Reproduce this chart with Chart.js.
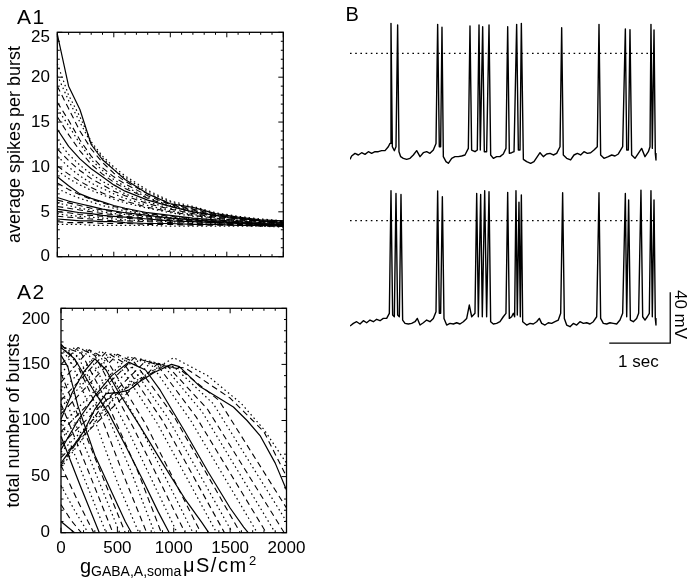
<!DOCTYPE html>
<html><head><meta charset="utf-8">
<script src="https://cdn.jsdelivr.net/npm/chart.js@4.4.0/dist/chart.umd.min.js"></script>
<style>
html,body{margin:0;padding:0;background:#fff;}
body{width:696px;height:584px;position:relative;overflow:hidden;font-family:'Liberation Sans',Arial,sans-serif;}
.wrap{position:absolute;}
.lbl{position:absolute;font-family:'Liberation Sans',Arial,sans-serif;line-height:1;white-space:nowrap;color:#000;}
</style></head><body>
<div class="wrap" style="left:0;top:0;width:300px;height:265px"><canvas id="a1" width="300" height="265"></canvas></div>
<div class="wrap" style="left:0;top:280px;width:310px;height:290px"><canvas id="a2" width="310" height="290"></canvas></div>
<div class="wrap" style="left:350px;top:10px;width:310px;height:160px"><canvas id="b1" width="310" height="160"></canvas></div>
<div class="wrap" style="left:350px;top:180px;width:330px;height:180px"><canvas id="b2" width="330" height="180"></canvas></div>

<div class="lbl" style="left:17px;top:5.5px;font-size:21px;letter-spacing:1.5px">A1</div>
<div class="lbl" style="left:17px;top:280.5px;font-size:21px;letter-spacing:1.5px">A2</div>
<div class="lbl" style="left:345.5px;top:4px;font-size:20px">B</div>

<span class="lbl" style="left:80px;top:556px;font-size:20px">g</span>
<span class="lbl" style="left:91px;top:564px;font-size:14px">GABA,A,soma</span>
<span class="lbl" style="left:183px;top:555px;font-size:20px;letter-spacing:1.5px">μS/cm</span>
<span class="lbl" style="left:249px;top:554px;font-size:13px">2</span>

<div class="lbl" style="left:618px;top:352.8px;font-size:17px">1 sec</div>
<div class="lbl" style="left:650px;top:305.5px;width:60px;height:17px;font-size:17px;text-align:center;transform:rotate(90deg);transform-origin:30px 8.5px">40 mV</div>

<script>
// ---------------- A1: average spikes per burst vs gGABA,A,soma ----------------
const A1_G = [0,100,200,300,400,500,600,800,1000,1200,1400,1600,1800,2000];
const A1_C01 = [24.8,19.0,16.4,12.5,10.8,9.7,8.6,7.0,5.9,5.5,4.8,4.4,4.1,4.0];
const A1_C02 = [21.5,18.0,15.6,12.8,11.2,10.0,9.0,7.4,6.2,5.6,4.9,4.5,4.2,4.0];
const A1_C03 = [20.2,17.4,15.0,12.6,11.0,9.7,8.8,7.2,6.1,5.4,4.8,4.4,4.1,3.9];
const A1_C04 = [19.0,16.5,14.0,12.0,10.5,9.3,8.4,7.0,5.9,5.3,4.7,4.3,4.0,3.9];
const A1_C05 = [17.2,15.2,13.0,11.2,9.9,8.9,8.1,6.8,5.8,5.2,4.6,4.3,4.0,3.8];
const A1_C06 = [16.5,14.6,12.6,10.8,9.6,8.6,7.8,6.6,5.7,5.1,4.6,4.2,4.0,3.8];
const A1_C07 = [15.6,13.6,11.8,10.3,9.2,8.3,7.6,6.5,5.6,5.0,4.5,4.2,3.9,3.8];
const A1_C08 = [14.2,12.3,10.9,9.8,8.9,8.0,7.3,6.3,5.6,5.0,4.6,4.3,4.0,3.8];
const A1_C09 = [13.0,11.4,10.2,9.2,8.4,7.7,7.0,6.1,5.4,4.9,4.5,4.2,3.9,3.7];
const A1_C10 = [12.0,10.7,9.6,8.7,8.0,7.3,6.8,5.9,5.3,4.8,4.4,4.1,3.9,3.7];
const A1_C11 = [11.2,10.0,9.0,8.2,7.6,7.0,6.5,5.7,5.1,4.7,4.3,4.0,3.8,3.7];
const A1_C12 = [10.1,9.2,8.4,7.7,7.1,6.6,6.2,5.5,5.0,4.6,4.3,4.0,3.8,3.6];
const A1_C13 = [9.6,8.7,8.0,7.4,6.9,6.4,6.0,5.4,4.9,4.5,4.2,4.0,3.8,3.6];
const A1_C14 = [8.9,7.9,7.0,6.5,6.1,5.7,5.4,4.9,4.6,4.3,4.1,3.9,3.7,3.6];
const A1_C15 = [8.2,7.5,6.9,6.4,6.0,5.6,5.3,4.8,4.5,4.2,4.0,3.8,3.7,3.6];
const A1_C16 = [7.6,7.0,6.5,6.1,5.7,5.4,5.1,4.7,4.4,4.2,4.0,3.8,3.7,3.5];
const A1_C17 = [6.6,6.2,5.9,5.6,5.3,5.1,4.9,4.6,4.3,4.1,3.9,3.8,3.6,3.5];
const A1_C18 = [6.3,6.0,5.7,5.4,5.2,5.0,4.8,4.5,4.3,4.1,3.9,3.7,3.6,3.5];
const A1_C19 = [6.0,5.7,5.4,5.2,5.0,4.8,4.7,4.4,4.2,4.0,3.9,3.7,3.6,3.5];
const A1_C20 = [5.6,5.4,5.2,5.0,4.8,4.7,4.5,4.3,4.1,4.0,3.8,3.7,3.6,3.5];
const A1_C21 = [5.3,5.1,4.9,4.8,4.6,4.5,4.4,4.2,4.0,3.9,3.8,3.7,3.6,3.5];
const A1_C22 = [5.0,4.9,4.7,4.6,4.5,4.4,4.3,4.1,4.0,3.9,3.8,3.7,3.6,3.5];
const A1_C23 = [4.8,4.6,4.5,4.4,4.3,4.2,4.1,4.0,3.9,3.8,3.7,3.6,3.5,3.4];
const A1_C24 = [4.5,4.4,4.3,4.2,4.1,4.0,4.0,3.9,3.8,3.7,3.6,3.6,3.5,3.4];
const A1_C25 = [4.2,4.1,4.0,4.0,3.9,3.9,3.8,3.7,3.7,3.6,3.6,3.5,3.5,3.4];
const A1_C26 = [3.9,3.8,3.8,3.8,3.7,3.7,3.7,3.6,3.6,3.5,3.5,3.5,3.4,3.4];
const A1_C27 = [3.6,3.6,3.6,3.5,3.5,3.5,3.5,3.5,3.4,3.4,3.4,3.4,3.4,3.3];
const A1_TICKS = [0,5,10,15,20,25];

// ---------------- A2: total number of bursts vs gGABA,A,soma ([g, bursts]) ----------------
const A2_C01 = [[0,10],[120,0]];
const A2_C02 = [[0,25],[90,11],[180,0]];
const A2_C03 = [[0,42],[120,20],[240,0]];
const A2_C04 = [[0,60],[150,28],[290,0]];
const A2_C05 = [[0,86],[170,42],[340,0]];
const A2_C06 = [[0,100],[200,50],[400,0]];
const A2_C07 = [[0,115],[230,58],[460,0]];
const A2_C08 = [[0,128],[260,65],[520,0]];
const A2_C09 = [[0,142],[280,72],[570,0]];
const A2_C10 = [[0,158],[60,148],[150,113],[300,69],[450,36],[570,10],[625,0]];
const A2_C11 = [[0,165],[100,150],[300,100],[500,45],[690,0]];
const A2_C12 = [[0,168],[120,155],[350,105],[560,50],[760,0]];
const A2_C13 = [[0,167],[150,157],[380,112],[620,55],[830,0]];
const A2_C14 = [[0,166],[180,160],[400,118],[680,55],[890,0]];
const A2_C15 = [[0,165],[120,155],[300,125],[420,107],[570,78],[720,48],[860,19],[960,0]];
const A2_C16 = [[0,160],[100,165],[250,158],[600,90],[1030,0]];
const A2_C17 = [[0,150],[150,165],[300,158],[650,92],[1100,0]];
const A2_C18 = [[0,142],[200,164],[350,157],[700,95],[1170,0]];
const A2_C19 = [[0,134],[250,163],[400,155],[750,97],[1240,0]];
const A2_C20 = [[0,101],[100,125],[200,143],[300,155],[400,145],[500,127],[700,95],[900,62],[1100,30],[1250,9],[1310,0]];
const A2_C21 = [[0,126],[350,162],[500,152],[850,98],[1380,0]];
const A2_C22 = [[0,118],[400,161],[550,152],[900,100],[1450,0]];
const A2_C23 = [[0,112],[450,160],[600,152],[950,102],[1520,0]];
const A2_C24 = [[0,106],[500,159],[650,152],[1000,104],[1590,0]];
const A2_C25 = [[0,74],[150,100],[300,122],[450,140],[600,152],[750,145],[880,127],[1100,90],[1300,55],[1500,22],[1620,5],[1660,0]];
const A2_C26 = [[0,96],[600,157],[800,150],[1150,100],[1740,0]];
const A2_C27 = [[0,90],[650,156],[850,150],[1200,103],[1820,0]];
const A2_C28 = [[0,84],[700,155],[900,150],[1250,108],[1900,0]];
const A2_C29 = [[0,78],[750,153],[950,148],[1300,110],[1980,0]];
const A2_C30 = [[0,72],[800,152],[1000,148],[1350,115],[2000,10]];
const A2_C31 = [[0,67],[850,150],[1050,146],[1400,118],[2000,22]];
const A2_C32 = [[0,62],[200,90],[300,110],[400,124],[520,125],[600,127],[690,134],[830,143],[980,150],[1050,148],[1236,130],[1400,120],[1529,112],[1650,100],[1769,86],[1900,62],[2000,38]];
const A2_C33 = [[0,60],[400,118],[900,148],[1100,147],[1500,120],[1800,90],[2000,50]];
const A2_C34 = [[0,58],[500,125],[1000,156],[1300,140],[1600,115],[1800,92],[2000,62]];
const A2_XTICKS = [0,500,1000,1500,2000];
const A2_YTICKS = [0,50,100,150,200];

// ---------------- B: membrane potential traces (time s, mV) ----------------
const B_TOP_T = [0,0.027,0.082,0.137,0.191,0.246,0.301,0.355,0.410,0.464,0.519,0.574,0.628,0.656,0.672,0.694,0.727,0.754,0.781,0.803,0.831,0.874,0.929,0.984,1.038,1.093,1.148,1.202,1.257,1.311,1.366,1.410,1.437,1.464,1.486,1.508,1.530,1.574,1.612,1.667,1.721,1.776,1.830,1.885,1.940,1.967,1.994,2.049,2.087,2.115,2.136,2.175,2.202,2.240,2.279,2.306,2.350,2.404,2.459,2.513,2.557,2.585,2.612,2.650,2.689,2.732,2.760,2.787,2.809,2.842,2.896,2.962,3.016,3.071,3.115,3.169,3.224,3.279,3.333,3.388,3.443,3.470,3.497,3.552,3.617,3.672,3.727,3.781,3.836,3.891,3.945,4.000,4.054,4.082,4.109,4.164,4.235,4.290,4.344,4.399,4.470,4.514,4.536,4.563,4.590,4.617,4.672,4.727,4.781,4.836,4.891,4.918,4.934,4.956,4.984,5.005,5.016];
const B_TOP_V = [-83.1,-80.5,-78.4,-79.7,-77.9,-79.2,-77.1,-78.4,-77.1,-77.1,-76.3,-76.3,-73.2,-70.6,23.5,-73.2,-76.3,-73.2,22.2,-77.1,-81.0,-82.3,-83.1,-82.3,-79.7,-76.3,-81.0,-77.9,-77.1,-78.4,-75.8,-70.6,22.7,-73.2,-73.2,20.4,-81.0,-84.9,-86.2,-82.3,-81.0,-81.0,-80.5,-79.7,-74.5,21.4,-75.8,-77.1,-75.8,22.2,-75.8,20.9,-77.1,-77.1,22.2,-79.7,-82.3,-81.0,-81.0,-78.9,-74.5,20.9,-78.4,-77.9,-77.1,22.7,-75.8,-75.8,23.5,-83.1,-84.9,-86.2,-84.9,-81.0,-77.9,-81.0,-78.9,-78.4,-79.7,-78.4,-73.2,20.1,-79.7,-82.3,-83.6,-79.7,-78.4,-79.7,-77.1,-78.4,-77.9,-75.8,-73.2,22.7,-79.7,-82.3,-81.0,-79.7,-80.5,-78.9,-73.2,19.1,-75.8,-75.8,18.6,-79.7,-82.3,-78.4,-74.5,-81.0,-77.1,-73.2,22.7,-74.5,18.3,-78.4,-83.6];
const B_BOT_T = [0,0.055,0.109,0.164,0.219,0.273,0.328,0.383,0.437,0.492,0.546,0.601,0.645,0.672,0.699,0.727,0.754,0.781,0.809,0.836,0.863,0.902,0.956,1.011,1.066,1.104,1.148,1.202,1.257,1.311,1.366,1.410,1.437,1.464,1.486,1.514,1.541,1.585,1.639,1.694,1.749,1.803,1.858,1.913,1.956,1.995,2.049,2.077,2.104,2.142,2.169,2.208,2.240,2.279,2.306,2.350,2.404,2.459,2.513,2.557,2.585,2.612,2.650,2.678,2.699,2.721,2.743,2.770,2.792,2.809,2.831,2.896,2.951,3.005,3.060,3.104,3.142,3.197,3.251,3.306,3.361,3.415,3.454,3.486,3.514,3.552,3.607,3.661,3.716,3.770,3.825,3.880,3.934,3.989,4.044,4.082,4.109,4.153,4.208,4.262,4.317,4.372,4.426,4.470,4.514,4.536,4.568,4.596,4.645,4.699,4.732,4.770,4.798,4.836,4.874,4.907,4.934,4.956,4.984,5.005,5.016];
const B_BOT_V = [-82.6,-80.5,-79.2,-81.0,-78.4,-80.0,-77.9,-79.2,-77.3,-78.4,-76.6,-76.6,-72.6,23.5,-73.9,-75.3,21.4,-73.9,-75.3,20.6,-77.9,-80.5,-81.0,-80.5,-79.2,-76.6,-81.8,-80.0,-77.9,-79.2,-76.6,-71.3,23.3,-72.6,-72.6,18.8,-76.6,-81.8,-80.5,-81.0,-80.0,-81.0,-79.2,-76.6,-66.1,-75.3,-72.6,21.4,-75.3,20.6,-75.3,23.5,-75.3,22.7,-79.2,-81.0,-80.5,-79.2,-75.3,-72.6,22.2,-76.6,-75.3,-72.6,-75.3,23.5,-73.9,14.4,-75.3,20.1,-79.2,-81.8,-80.5,-81.0,-79.2,-76.6,-80.5,-81.8,-80.0,-80.5,-79.2,-77.9,-72.6,21.9,-76.6,-81.8,-83.1,-80.5,-81.8,-79.2,-80.5,-80.0,-81.0,-79.2,-75.3,21.9,-76.6,-80.5,-81.0,-80.0,-80.5,-81.0,-77.9,-72.6,21.4,-75.3,16.2,-77.9,-79.2,-76.6,-72.6,24.0,-75.3,-77.9,-75.3,-72.6,23.5,-75.3,16.2,-76.6,-81.8];
const B_DOTTED_T = [0, 5.0];
const B_DOTTED_V = [0, 0];
const SCALEBAR_T = [4.25, 5.25, 5.25];   // 1 sec
const SCALEBAR_V = [-96, -96, -56];      // 40 mV

// ---------------- styling & building ----------------
const FONT = "'Liberation Sans', Arial, sans-serif";
const DASH = { solid: [], dashed: [6, 4], dotted: [1.5, 3] };
const WIDTH = { solid: 1.2, dashed: 1.1, dotted: 1.2 };
const A1_CURVES = [A1_C01,A1_C02,A1_C03,A1_C04,A1_C05,A1_C06,A1_C07,A1_C08,A1_C09,A1_C10,A1_C11,A1_C12,A1_C13,A1_C14,A1_C15,A1_C16,A1_C17,A1_C18,A1_C19,A1_C20,A1_C21,A1_C22,A1_C23,A1_C24,A1_C25,A1_C26,A1_C27];
const A1_STYLE = ['solid','dotted','dotted','dashed','dashed','dotted','dashed','solid','dotted','dashed','dotted','dashed','dotted','solid','dashed','dotted','solid','dashed','dotted','dashed','solid','dashed','dotted','dashed','solid','dashed','dotted'];
const A2_CURVES = [A2_C01,A2_C02,A2_C03,A2_C04,A2_C05,A2_C06,A2_C07,A2_C08,A2_C09,A2_C10,A2_C11,A2_C12,A2_C13,A2_C14,A2_C15,A2_C16,A2_C17,A2_C18,A2_C19,A2_C20,A2_C21,A2_C22,A2_C23,A2_C24,A2_C25,A2_C26,A2_C27,A2_C28,A2_C29,A2_C30,A2_C31,A2_C32,A2_C33,A2_C34];
const A2_STYLE = ['solid','dashed','dotted','dashed','solid','dotted','dashed','dotted','dashed','solid','dotted','dashed','dotted','dashed','solid','dotted','dashed','dotted','dashed','solid','dotted','dashed','dotted','dashed','solid','dotted','dashed','dotted','dashed','dotted','dashed','solid','dashed','dotted'];

function lineDs(points, style, width) {
  return { data: points, borderColor: '#000', borderWidth: width || WIDTH[style], borderDash: DASH[style],
    pointRadius: 0, fill: false, tension: 0, clip: false, borderJoinStyle: 'round' };
}

const frameTicks = {
  id: 'frameTicks',
  afterDatasetsDraw(chart, args, o) {
    const { ctx, chartArea: a, scales } = chart;
    const x = scales.x, y = scales.y;
    ctx.save();
    ctx.strokeStyle = '#000';
    ctx.setLineDash([]);
    ctx.lineWidth = 1;
    ctx.beginPath();
    const nx = Math.round((x.max - x.min) / o.xMinor);
    for (let i = 0; i <= nx; i++) {
      const v = x.min + i * o.xMinor;
      const len = (Math.round(v) % o.xMajor === 0) ? 5 : 2.5;
      const p = x.getPixelForValue(v);
      ctx.moveTo(p, a.bottom); ctx.lineTo(p, a.bottom - len);
      ctx.moveTo(p, a.top); ctx.lineTo(p, a.top + len);
    }
    const ny = Math.round((y.max - y.min) / o.yMinor);
    for (let i = 0; i <= ny; i++) {
      const v = y.min + i * o.yMinor;
      const len = (Math.round(v * 1000) % Math.round(o.yMajor * 1000) === 0) ? 5 : 2.5;
      const p = y.getPixelForValue(v);
      ctx.moveTo(a.left, p); ctx.lineTo(a.left + len, p);
      ctx.moveTo(a.right, p); ctx.lineTo(a.right - len, p);
    }
    ctx.stroke();
    ctx.lineWidth = 1.3;
    ctx.strokeRect(a.left, a.top, a.right - a.left, a.bottom - a.top);
    // top y label, drawn slightly below its tick as in the original
    ctx.fillStyle = '#000';
    ctx.font = o.tickSize + 'px ' + FONT;
    ctx.textAlign = 'right';
    ctx.textBaseline = 'middle';
    ctx.fillText(String(y.max), a.left - o.yPad, y.getPixelForValue(y.max) + o.topShift);
    ctx.restore();
  }
};

Chart.defaults.color = '#000';
Chart.defaults.font.family = FONT;
const TICK_SIZE = 17;
const TITLE_SIZE = 18;

function noPad(s) { s.paddingTop = 0; s.paddingBottom = 0; s.paddingLeft = 0; s.paddingRight = 0; }

function panelOptions(cfg) {
  return {
    responsive: false, animation: false, devicePixelRatio: 1,
    layout: { padding: cfg.padding },
    plugins: { legend: { display: false }, tooltip: { enabled: false },
      frameTicks: cfg.frame },
    scales: {
      x: Object.assign({ type: 'linear', min: 0, max: 2000 }, cfg.x),
      y: {
        type: 'linear', min: cfg.yMin, max: cfg.yMax,
        afterFit: s => { s.width = cfg.yWidth; noPad(s); },
        afterBuildTicks: s => { s.ticks = cfg.yTicks.map(v => ({ value: v })); },
        grid: { display: false, drawTicks: false }, border: { display: false },
        ticks: { padding: cfg.frame.yPad, color: '#000', font: { size: TICK_SIZE, family: FONT },
          callback: v => (v === cfg.yMax ? '' : String(v)) },
        title: { display: true, text: cfg.yTitle, color: '#000',
          font: { size: TITLE_SIZE, family: FONT }, padding: { top: cfg.titlePad, bottom: 0 } }
      }
    }
  };
}

new Chart(document.getElementById('a1'), {
  type: 'line',
  data: { datasets: A1_CURVES.map((ys, i) => lineDs(A1_G.map((g, j) => ({ x: g, y: ys[j] })), A1_STYLE[i])) },
  options: panelOptions({
    padding: { top: 32.3, right: 16.7, bottom: 8.3, left: 0 },
    x: { display: false },
    yMin: 0, yMax: 25, yTicks: A1_TICKS, yWidth: 57.3, titlePad: 4.2,
    yTitle: 'average spikes per burst',
    frame: { xMinor: 100, xMajor: 500, yMinor: 1, yMajor: 5, yPad: 7.3, topShift: 5.4, tickSize: TICK_SIZE }
  }),
  plugins: [frameTicks]
});

new Chart(document.getElementById('a2'), {
  type: 'line',
  data: { datasets: A2_CURVES.map((pts, i) => lineDs(pts.map(p => ({ x: p[0], y: p[1] })), A2_STYLE[i])) },
  options: panelOptions({
    padding: { top: 28.3, right: 23.5, bottom: 0, left: 0 },
    x: {
      afterFit: s => { s.height = 37.3; noPad(s); },
      afterBuildTicks: s => { s.ticks = A2_XTICKS.map(v => ({ value: v })); },
      grid: { display: false, drawTicks: false }, border: { display: false },
      ticks: { padding: 5, color: '#000', font: { size: TICK_SIZE, family: FONT }, maxRotation: 0,
        callback: v => String(v) }
    },
    yMin: 0, yMax: 200, yTicks: A2_YTICKS, yWidth: 61, titlePad: 3.2,
    yTitle: 'total number of bursts',
    frame: { xMinor: 100, xMajor: 500, yMinor: 10, yMajor: 50, yPad: 11, topShift: 11, tickSize: TICK_SIZE }
  }),
  plugins: [frameTicks]
});

function traceChart(id, t, v, yMin, yMax, xMax, withBar) {
  const ds = [
    lineDs(t.map((tt, i) => ({ x: tt, y: v[i] })), 'solid', 1.4),
    lineDs(B_DOTTED_T.map((tt, i) => ({ x: tt, y: B_DOTTED_V[i] })), 'dotted', 1.2)
  ];
  ds[1].borderDash = [1.6, 3.6];
  if (withBar) {
    const bar = lineDs(SCALEBAR_T.map((tt, i) => ({ x: tt, y: SCALEBAR_V[i] })), 'solid', 1.3);
    bar.borderJoinStyle = 'miter';
    ds.push(bar);
  }
  new Chart(document.getElementById(id), {
    type: 'line',
    data: { datasets: ds },
    options: {
      responsive: false, animation: false, devicePixelRatio: 1,
      layout: { padding: 0 },
      plugins: { legend: { display: false }, tooltip: { enabled: false } },
      scales: {
        x: { type: 'linear', min: 0, max: xMax, display: false },
        y: { type: 'linear', min: yMin, max: yMax, display: false }
      }
    }
  });
}
traceChart('b1', B_TOP_T, B_TOP_V, -91.46, 33.97, 5.082, false);
traceChart('b2', B_BOT_T, B_BOT_V, -109.2, 31.9, 5.41, true);
</script>
</body></html>
